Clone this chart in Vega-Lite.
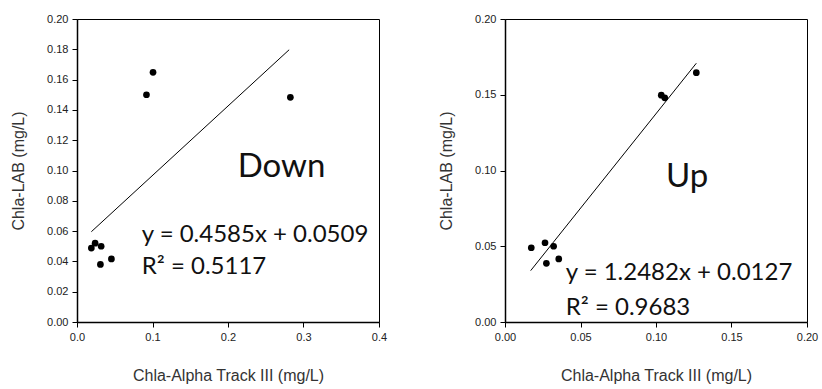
{
  "$schema": "https://vega.github.io/schema/vega-lite/v6.json",
  "padding": {"left": 10, "top": 12, "right": 5, "bottom": 5},
  "background": "white",
  "spacing": 126,
  "bounds": "flush",
  "config": {
    "view": {"stroke": "black", "strokeWidth": 1},
    "axis": {
      "grid": false,
      "domainColor": "black",
      "domainWidth": 1.5,
      "tickColor": "black",
      "tickSize": 5,
      "labelFont": "Liberation Sans",
      "labelFontSize": 11,
      "labelColor": "#222",
      "labelPadding": 4,
      "labelOverlap": false,
      "labelFlush": false,
      "titleFont": "Liberation Sans",
      "titleFontSize": 16,
      "titleFontWeight": "normal",
      "titleColor": "#333"
    },
    "axisY": {"titlePadding": 20},
    "axisX": {"titlePadding": 25}
  },
  "datasets": {
    "down": [
      {"x": 0.019, "y": 0.0488},
      {"x": 0.024, "y": 0.052},
      {"x": 0.032, "y": 0.050},
      {"x": 0.031, "y": 0.038},
      {"x": 0.0456, "y": 0.0416},
      {"x": 0.092, "y": 0.150},
      {"x": 0.1007, "y": 0.1648},
      {"x": 0.2826, "y": 0.1483}
    ],
    "downFit": [
      {"x": 0.019, "y": 0.0596},
      {"x": 0.281, "y": 0.1797}
    ],
    "downText": [
      {"x": 0.2128, "y": 0.0957, "t": "Down", "size": 33},
      {"x": 0.0857, "y": 0.0528, "t": "y = 0.4585x + 0.0509", "size": 24},
      {"x": 0.0857, "y": 0.0317, "t": "R² = 0.5117", "size": 24}
    ],
    "up": [
      {"x": 0.0174, "y": 0.049},
      {"x": 0.0265, "y": 0.0523},
      {"x": 0.0322, "y": 0.050},
      {"x": 0.0274, "y": 0.0387},
      {"x": 0.0356, "y": 0.0416},
      {"x": 0.1035, "y": 0.1497},
      {"x": 0.1058, "y": 0.148},
      {"x": 0.1267, "y": 0.1646}
    ],
    "upFit": [
      {"x": 0.017, "y": 0.0339},
      {"x": 0.1267, "y": 0.1708}
    ],
    "upText": [
      {"x": 0.1066, "y": 0.0891, "t": "Up", "size": 33},
      {"x": 0.0402, "y": 0.0277, "t": "y = 1.2482x + 0.0127", "size": 24},
      {"x": 0.0402, "y": 0.0046, "t": "R² = 0.9683", "size": 24}
    ]
  },
  "hconcat": [
    {
      "width": 302,
      "height": 303,
      "encoding": {
        "x": {"field": "x", "type": "quantitative", "scale": {"domain": [0, 0.4], "nice": false}, "axis": {"values": [0, 0.1, 0.2, 0.3, 0.4], "format": ".1f", "title": "Chla-Alpha Track III (mg/L)"}},
        "y": {"field": "y", "type": "quantitative", "scale": {"domain": [0, 0.2], "nice": false}, "axis": {"values": [0, 0.02, 0.04, 0.06, 0.08, 0.1, 0.12, 0.14, 0.16, 0.18, 0.2], "format": ".2f", "labelOverlap": false, "title": "Chla-LAB (mg/L)"}}
      },
      "layer": [
        {
          "data": {"name": "downFit"},
          "mark": {"type": "line", "color": "black", "strokeWidth": 1}
        },
        {
          "data": {"name": "down"},
          "mark": {"type": "point", "filled": true, "color": "black", "opacity": 1, "size": 45}
        },
        {
          "data": {"name": "downText"},
          "mark": {"type": "text", "font": "Lato", "color": "#111", "baseline": "alphabetic", "align": "left"},
          "encoding": {
            "text": {"field": "t"},
            "size": {"field": "size", "type": "quantitative", "scale": null}
          }
        }
      ]
    },
    {
      "width": 302,
      "height": 303,
      "encoding": {
        "x": {"field": "x", "type": "quantitative", "scale": {"domain": [0, 0.2], "nice": false}, "axis": {"values": [0, 0.05, 0.1, 0.15, 0.2], "format": ".2f", "title": "Chla-Alpha Track III (mg/L)"}},
        "y": {"field": "y", "type": "quantitative", "scale": {"domain": [0, 0.2], "nice": false}, "axis": {"values": [0, 0.05, 0.1, 0.15, 0.2], "format": ".2f", "title": "Chla-LAB (mg/L)"}}
      },
      "layer": [
        {
          "data": {"name": "upFit"},
          "mark": {"type": "line", "color": "black", "strokeWidth": 1}
        },
        {
          "data": {"name": "up"},
          "mark": {"type": "point", "filled": true, "color": "black", "opacity": 1, "size": 45}
        },
        {
          "data": {"name": "upText"},
          "mark": {"type": "text", "font": "Lato", "color": "#111", "baseline": "alphabetic", "align": "left"},
          "encoding": {
            "text": {"field": "t"},
            "size": {"field": "size", "type": "quantitative", "scale": null}
          }
        }
      ]
    }
  ]
}
